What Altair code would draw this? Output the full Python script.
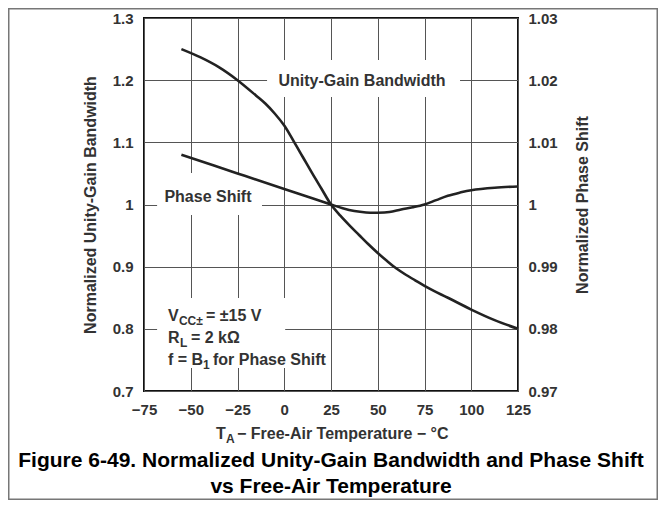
import altair as alt
import pandas as pd

# ---- data ----
temp_bw = [-55, -45, -35, -25, -15, -10, -5, 0, 5, 10, 15, 20, 25, 30, 35, 40, 45, 50, 55, 60, 65,
           70, 75, 80, 87.5, 100, 112.5, 125]
bw_vals = [1.250, 1.237, 1.221, 1.200, 1.175, 1.162, 1.146, 1.127, 1.102, 1.076, 1.050, 1.025,
           1.000, 0.982, 0.966, 0.951, 0.936, 0.922, 0.909, 0.897, 0.887, 0.878, 0.869, 0.861,
           0.850, 0.831, 0.814, 0.800]

temp_ps = [-55, -25, 0, 15, 25, 31.25, 37.5, 43.75, 50, 56.25, 62.5, 68.75, 75, 81.25, 87.5,
           93.75, 100, 112.5, 125]
ps_vals = [1.0080, 1.0050, 1.0025, 1.0010, 1.0000, 0.9994, 0.99895, 0.99872, 0.99868, 0.9988,
           0.9992, 0.99955, 1.0000, 1.0007, 1.0014, 1.0019, 1.0023, 1.0027, 1.0029]

x_ticks = [-75, -50, -25, 0, 25, 50, 75, 100, 125]
left_ticks = [0.7, 0.8, 0.9, 1.0, 1.1, 1.2, 1.3]
right_ticks = [0.97, 0.98, 0.99, 1.0, 1.01, 1.02, 1.03]

title_lines = ["Figure 6-49. Normalized Unity-Gain Bandwidth and Phase Shift",
               "vs Free-Air Temperature"]

# ---- layout / style ----
W, H = 374, 373
FONT = "Liberation Sans"
INK = "#333333"
LINE = "#222222"

xscale = alt.Scale(domain=[-75, 125], nice=False, zero=False)
yscale_l = alt.Scale(domain=[0.7, 1.3], nice=False, zero=False)
yscale_r = alt.Scale(domain=[0.97, 1.03], nice=False, zero=False)

x_axis = alt.Axis(values=x_ticks, title=None, grid=True, ticks=False, labelPadding=11,
                  labelFlush=False, labelOverlap=False,
                  labelExpr="replace(datum.label, '-', '\u2212')")
yl_axis = alt.Axis(values=left_ticks, format="~g", title="Normalized Unity-Gain Bandwidth",
                   grid=True, ticks=False, labelPadding=11, titlePadding=14,
                   labelFlush=False, labelOverlap=False)
yr_axis = alt.Axis(values=right_ticks, format="~g", orient="right",
                   title="Normalized Phase Shift", grid=False, ticks=False,
                   labelPadding=10, titlePadding=33, titleAngle=270,
                   labelFlush=False, labelOverlap=False)

X = alt.X("t:Q", scale=xscale, axis=x_axis)
YL = alt.Y("v:Q", scale=yscale_l, axis=yl_axis)

bw_df = pd.DataFrame({"t": temp_bw, "v": bw_vals})
ps_df = pd.DataFrame({"t": temp_ps, "v": ps_vals})

bw_line = alt.Chart(bw_df).mark_line(
    color=LINE, strokeWidth=2.6, interpolate="catmull-rom"
).encode(x=X, y=YL)

ps_line = alt.Chart(ps_df).mark_line(
    color=LINE, strokeWidth=2.6, interpolate="catmull-rom"
).encode(
    x=X,
    y=alt.Y("v:Q", scale=yscale_r, axis=yr_axis),
)


def box(x1, x2, y1, y2):
    d = pd.DataFrame({"t": [x1], "t2": [x2], "v": [y1], "v2": [y2]})
    return alt.Chart(d).mark_rect(color="white").encode(x=X, x2="t2:Q", y=YL, y2="v2:Q")


def label(x, y, s, size=16, dx=0, dy=0, align="left", color=INK):
    d = pd.DataFrame({"t": [x], "v": [y], "s": [s]})
    return alt.Chart(d).mark_text(
        font=FONT, fontWeight="bold", fontSize=size, align=align,
        baseline="alphabetic", dx=dx, dy=dy, color=color
    ).encode(x=X, y=YL, text="s:N")


boxes = [
    box(-9.2, 94, 1.2324, 1.173),
    box(-68, -11.9, 1.0507, 0.983),
    box(-68, 0.5, 0.8496, 0.737),
]

texts = [
    label(41.6, 1.1906, "Unity-Gain Bandwidth", align="center"),
    label(-40.8, 1.004, "Phase Shift", align="center"),
    # conditions block
    label(-62.2, 0.8126, "V"),
    label(-62.2, 0.8126, "CC\u00b1", size=12, dx=11, dy=4),
    label(-62.2, 0.8126, "= \u00b115 V", dx=38),
    label(-62.2, 0.7772, "R"),
    label(-62.2, 0.7772, "L", size=12, dx=12, dy=4),
    label(-62.2, 0.7772, "= 2 k\u03a9", dx=23),
    label(-62.2, 0.7419, "f = B"),
    label(-62.2, 0.7419, "1", size=12, dx=35, dy=4),
    label(-62.2, 0.7419, "for Phase Shift", dx=45),
    # x-axis title with subscript
    label(-36.5, 0.6228, "T"),
    label(-36.5, 0.6228, "A", size=12, dx=10, dy=4),
    label(-36.5, 0.6228, "\u2212 Free-Air Temperature \u2212 \u00b0C", dx=21),
    # figure caption
    label(25, 0.5778, title_lines[0], size=21, align="center", color="#000000"),
    label(25, 0.5360, title_lines[1], size=21, align="center", color="#000000"),
]

frame = alt.Chart(pd.DataFrame({"k": [0]})).mark_rect(
    fill=None, fillOpacity=0, stroke="#777777", strokeWidth=1.5
).encode(
    x=alt.value(-135.25), x2=alt.value(W + 139.25),
    y=alt.value(-9.25), y2=alt.value(H + 108.25),
)

left_layer = alt.layer(bw_line, *boxes, *texts, frame)

chart = alt.layer(left_layer, ps_line).resolve_scale(y="independent").properties(
    width=W, height=H,
    autosize=alt.AutoSizeParams(type="none"),
    padding={"left": 136, "top": 10, "right": 140, "bottom": 109},
).configure_view(
    stroke="#111111", strokeWidth=2
).configure_axis(
    domain=False,
    gridColor="#555555", gridWidth=1, gridOpacity=1,
    labelFont=FONT, labelFontWeight="bold", labelFontSize=15, labelColor=INK,
    titleFont=FONT, titleFontWeight="bold", titleFontSize=16, titleColor=INK,
)

chart.save("out.html", embed_options={"renderer": "svg", "actions": False})
